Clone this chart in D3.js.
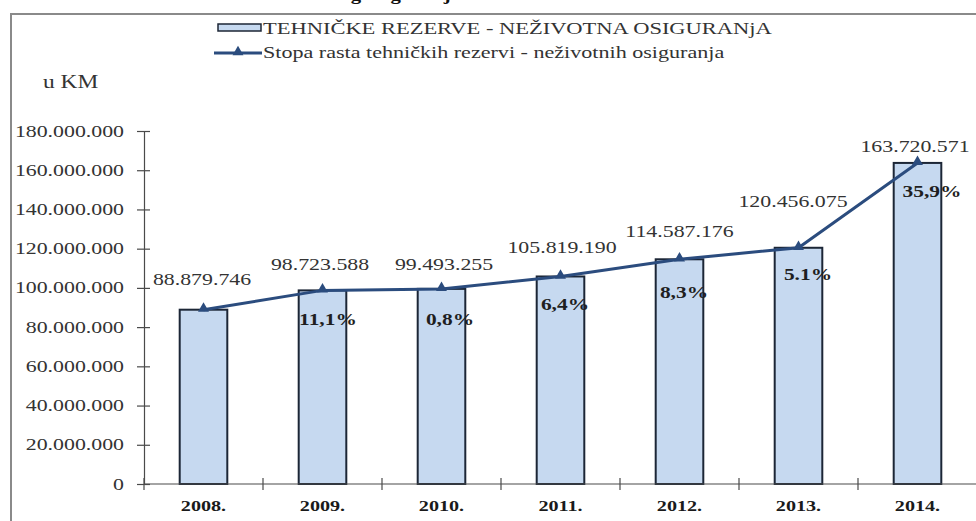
<!DOCTYPE html>
<html>
<head>
<meta charset="utf-8">
<script src="https://cdn.jsdelivr.net/npm/d3@7/dist/d3.min.js"></script>
<style>
  html, body { margin: 0; padding: 0; background: #fff; }
  svg { display: block; }
</style>
</head>
<body>
<svg id="chart" width="976" height="521"></svg>
<script>
// Godine, iznosi tehničkih rezervi (KM) i stope rasta
const years = ["2008.", "2009.", "2010.", "2011.", "2012.", "2013.", "2014."];
const reserves = [88879746, 98723588, 99493255, 105819190, 114587176, 120456075, 163720571];
const growthLabels = ["", "11,1%", "0,8%", "6,4%", "8,3%", "5.1%", "35,9%"];
const yTicks = [0, 20000000, 40000000, 60000000, 80000000, 100000000, 120000000, 140000000, 160000000, 180000000];

const titleText = "Grafikon 6: Tehničke rezerve neživotnog osiguranja";
const legendBars = "TEHNIČKE REZERVE - NEŽIVOTNA OSIGURANjA";
const legendLine = "Stopa rasta tehničkih rezervi - neživotnih osiguranja";
const unitText = "u KM";

// Raspored: pomaci oznaka u odnosu na vrh stupca [dx, dy]
const valueOffsets = [[-1.5, -25], [-2.5, -20], [2.5, -19], [1.5, -23.5], [0, -22], [-5.5, -41], [-2.5, -11]];
const growthOffsets = [[0, 0], [5.5, 35], [8.5, 36], [4.5, 33.5], [4.5, 39], [9.5, 32], [14.5, 34]];

const FONT = "'Liberation Serif', 'Times New Roman', 'DejaVu Serif', serif";
const SX = 1.3; // horizontalno rastezanje teksta
const barFill = "#c6d9f0", barStroke = "#1c2636", lineColor = "#2b4c7e", axisColor = "#4a4a4a", textColor = "#333333";

const svg = d3.select("#chart");

function stretchedText(g, x, y, str, opts) {
  return g.append("text")
    .attr("transform", `translate(${x},${y}) scale(${SX},1)`)
    .attr("font-family", FONT)
    .attr("text-anchor", opts.anchor || "start")
    .attr("font-size", opts.size || 16)
    .attr("font-weight", opts.weight || "normal")
    .attr("fill", opts.fill || textColor)
    .text(str);
}

const fmt = v => d3.format(",")(v).replace(/,/g, ".");

// Naslov (gornji rub)
stretchedText(svg, 0, 0, titleText, { size: 16, weight: "bold", fill: "#111" });

// Okvir
svg.append("rect")
  .attr("x", 11).attr("y", 14)
  .attr("width", 990).attr("height", 540)
  .attr("fill", "none").attr("stroke", "#8a8a8a").attr("stroke-width", 2);

// Skale
const x = d3.scaleBand().domain(years).range([144, 977]).paddingInner(0.6).paddingOuter(0.3);
const y = d3.scaleLinear().domain([0, 180000000]).range([484, 131]);
const step = x.step();

// Y os
const yAxis = svg.append("g").attr("transform", "translate(144,0)")
  .call(d3.axisLeft(y).tickValues(yTicks).tickFormat(fmt).tickSizeInner(7).tickSizeOuter(0));
yAxis.select(".domain").attr("stroke", axisColor).attr("stroke-width", 1.2);
yAxis.selectAll(".tick line").attr("stroke", axisColor).attr("stroke-width", 1.2).attr("x2", 6).attr("x1", -7);
yAxis.selectAll(".tick text").remove();
yTicks.forEach(v => stretchedText(svg, 124, y(v) + 5.5, fmt(v), { anchor: "end", size: 16.8 }));

// Stupci
svg.append("g").selectAll("rect").data(reserves).join("rect")
  .attr("x", (d, i) => x(years[i]))
  .attr("y", d => y(d))
  .attr("width", x.bandwidth())
  .attr("height", d => y(0) - y(d))
  .attr("fill", barFill)
  .attr("stroke", barStroke)
  .attr("stroke-width", 2);

// X os s crticama između kategorija
svg.append("line")
  .attr("x1", 144).attr("x2", 977).attr("y1", y(0)).attr("y2", y(0))
  .attr("stroke", axisColor).attr("stroke-width", 1.2);
d3.range(years.length + 1).forEach(i => {
  const tx = 144 + i * step;
  svg.append("line").attr("x1", tx).attr("x2", tx).attr("y1", y(0) - 6).attr("y2", y(0) + 6)
    .attr("stroke", axisColor).attr("stroke-width", 1.2);
});
years.forEach(yr => stretchedText(svg, x(yr) + x.bandwidth() / 2, 511, yr, { anchor: "middle", size: 15.5, weight: "bold", fill: "#1a1a1a" }));

// Linija stope rasta preko vrhova stupaca
const cx = i => x(years[i]) + x.bandwidth() / 2;
svg.append("path")
  .datum(reserves)
  .attr("d", d3.line().x((d, i) => cx(i)).y(d => y(d)))
  .attr("fill", "none").attr("stroke", lineColor).attr("stroke-width", 3);
const tri = d3.symbol().type(d3.symbolTriangle).size(52);
svg.append("g").selectAll("path").data(reserves).join("path")
  .attr("d", tri)
  .attr("transform", (d, i) => `translate(${cx(i)},${y(d) - 1})`)
  .attr("fill", lineColor);

// Oznake iznosa
reserves.forEach((v, i) => {
  stretchedText(svg, cx(i) + valueOffsets[i][0], y(v) + valueOffsets[i][1], fmt(v), { anchor: "middle", size: 16.8 });
});
// Oznake stope rasta
growthLabels.forEach((s, i) => {
  if (!s) return;
  stretchedText(svg, cx(i) + growthOffsets[i][0], y(reserves[i]) + growthOffsets[i][1], s, { anchor: "middle", size: 16.5, weight: "bold", fill: "#1f1f1f" });
});

// Legenda
const lg = svg.append("g");
lg.append("rect").attr("x", 218).attr("y", 24).attr("width", 43).attr("height", 7)
  .attr("fill", barFill).attr("stroke", barStroke).attr("stroke-width", 1.5);
stretchedText(lg, 263, 34, legendBars, { size: 17.3 });
lg.append("line").attr("x1", 214).attr("x2", 262).attr("y1", 53).attr("y2", 53)
  .attr("stroke", lineColor).attr("stroke-width", 3);
lg.append("path").attr("d", tri).attr("transform", "translate(238,52)").attr("fill", lineColor);
stretchedText(lg, 263, 58, legendLine, { size: 17 });

// Jedinica
stretchedText(svg, 43, 88, unitText, { size: 18 });
</script>
</body>
</html>
